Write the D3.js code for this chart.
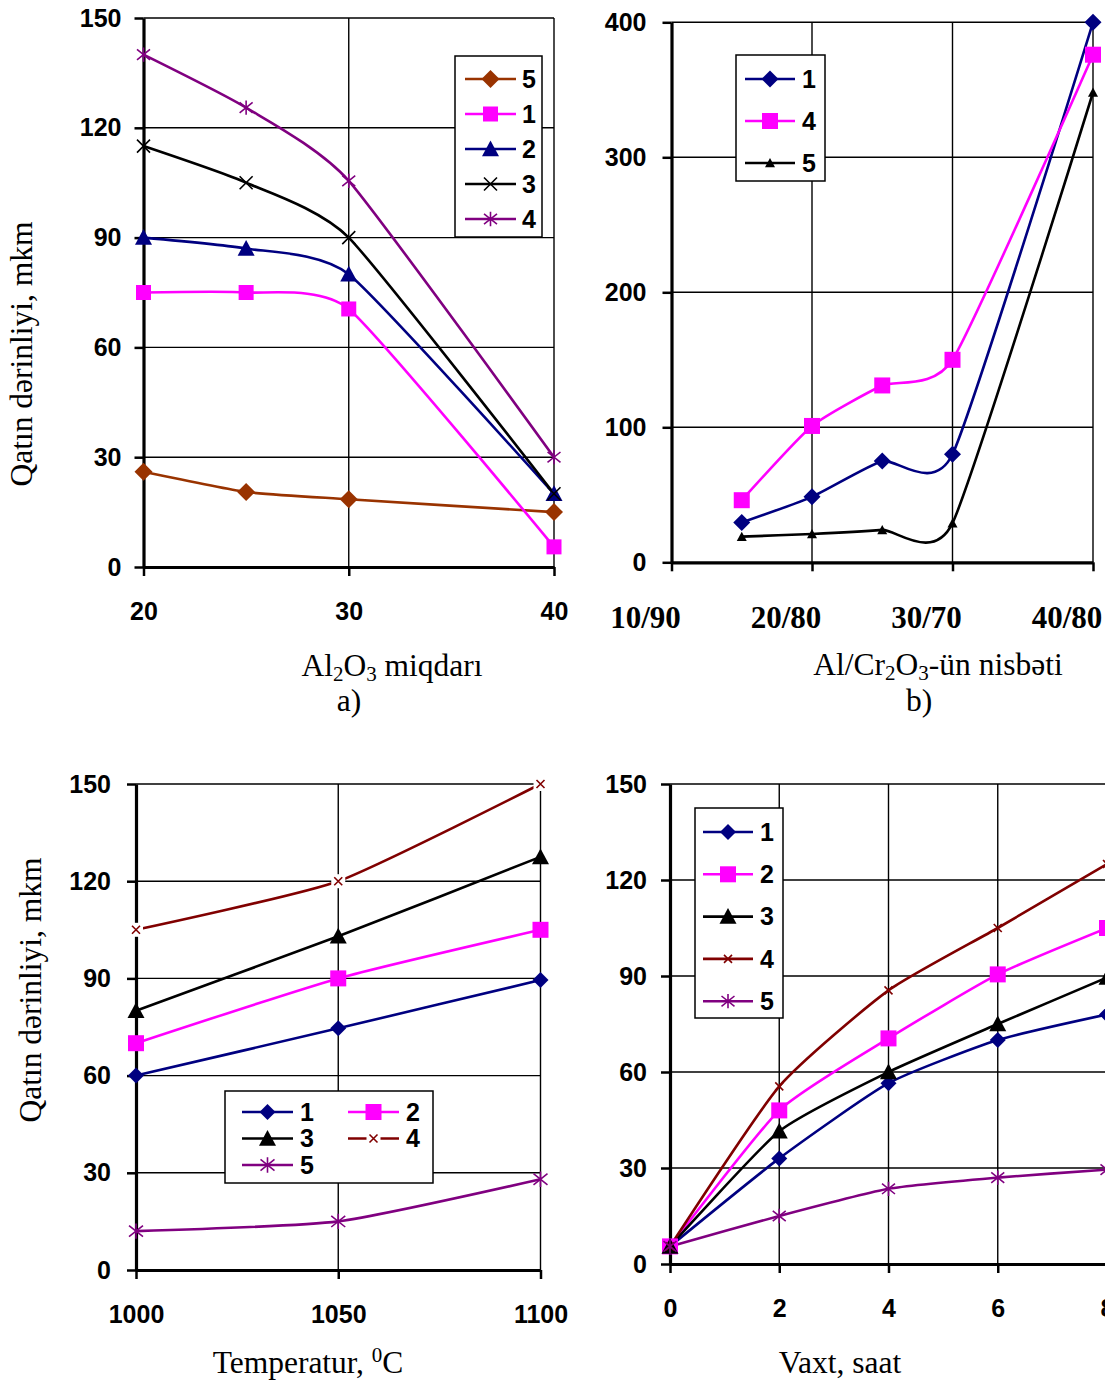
<!DOCTYPE html>
<html>
<head>
<meta charset="utf-8">
<script src="https://cdn.jsdelivr.net/npm/d3@7"></script>
<style>
  body { margin: 0; background: #fff; }
  .tick text { font-family: 'Liberation Sans', Arial, sans-serif; font-weight: bold; font-size: 25px; fill: #000; }
  .ttl { font-family: 'Liberation Serif', 'Times New Roman', serif; font-size: 31.5px; fill: #000; }
  .leg { font-family: 'Liberation Sans', Arial, sans-serif; font-weight: bold; font-size: 25px; fill: #000; }
</style>
</head>
<body>
<svg id="chart" width="1105" height="1385"></svg>
<script>
// a) Al2O3 amount
const aX = [20, 25, 30, 40];
const aDepth5 = [26, 20.5, 18.5, 15];
const aDepth1 = [75, 75, 70.5, 5.5];
const aDepth2 = [90, 87, 80, 20];
const aDepth3 = [115, 105, 90, 20];
const aDepth4 = [140, 125.5, 105.5, 30];
const aXTicks = [20, 30, 40];
const aYTicks = [0, 30, 60, 90, 120, 150];

// b) Al/Cr2O3 ratio
const bX = [15, 20, 25, 30, 40];
const bDepth1 = [29.5, 48.5, 75, 80, 400];
const bDepth4 = [46, 101, 131, 150, 376];
const bDepth5 = [19, 21, 24, 29, 348];
const bXTicks = [10, 20, 30, 40];
const bXLabels = ['10/90', '20/80', '30/70', '40/80'];
const bYTicks = [0, 100, 200, 300, 400];

// c) temperature
const cX = [1000, 1050, 1100];
const cDepth1 = [60, 74.6, 89.5];
const cDepth2 = [70, 90, 105];
const cDepth3 = [80, 103, 127.5];
const cDepth4 = [105, 120, 150];
const cDepth5 = [12, 15, 28];
const cXTicks = [1000, 1050, 1100];
const cYTicks = [0, 30, 60, 90, 120, 150];

// d) time
const dX = [0, 2, 4, 6, 8];
const dDepth1 = [5.5, 33, 56.5, 70, 78];
const dDepth2 = [5.5, 48, 70.5, 90.5, 105];
const dDepth3 = [5.5, 41.5, 60, 75, 89.5];
const dDepth4 = [5.5, 55.5, 85.5, 105, 125];
const dDepth5 = [5.5, 15, 23.5, 27, 29.5];
const dXTicks = [0, 2, 4, 6, 8];
const dYTicks = [0, 30, 60, 90, 120, 150];

const NAVY = '#000080', MAG = '#ff00ff', BROWN = '#993300', PURPLE = '#800080', MAROON = '#800000';

const svg = d3.select('#chart');

function addMarker(g, type, color, s, x, y) {
  const m = g.append('g').attr('transform', `translate(${x},${y})`);
  const h = s / 2;
  if (type === 'diamond') {
    m.append('path').attr('d', `M0,${-h}L${h},0L0,${h}L${-h},0Z`).attr('fill', color);
  } else if (type === 'square') {
    m.append('rect').attr('x', -h).attr('y', -h).attr('width', s).attr('height', s).attr('fill', color);
  } else if (type === 'triangle') {
    m.append('path').attr('d', `M0,${-h}L${h},${h * 0.85}L${-h},${h * 0.85}Z`).attr('fill', color);
  } else if (type === 'x' || type === 'xbox') {
    if (type === 'xbox') m.append('rect').attr('x', -h - 3).attr('y', -h - 3).attr('width', s + 6).attr('height', s + 6).attr('fill', '#fff');
    m.append('path').attr('d', `M${-h},${-h}L${h},${h}M${-h},${h}L${h},${-h}`)
      .attr('stroke', color).attr('stroke-width', 1.6).attr('fill', 'none');
  } else if (type === 'star') {
    m.append('path').attr('d', `M${-h},${-h * 0.8}L${h},${h * 0.8}M${-h},${h * 0.8}L${h},${-h * 0.8}M0,${-h * 1.1}L0,${h * 1.1}`)
      .attr('stroke', color).attr('stroke-width', 1.6).attr('fill', 'none');
  }
}

function drawPanel(p) {
  const x = d3.scaleLinear().domain(p.xDomain).range([p.left, p.right]);
  const y = d3.scaleLinear().domain(p.yDomain).range([p.bottom, p.top]);
  const g = svg.append('g');

  // grid
  g.append('g').selectAll('line').data(p.yTicks.filter(v => v > p.yDomain[0])).join('line')
    .attr('x1', p.left).attr('x2', p.right)
    .attr('y1', d => y(d)).attr('y2', d => y(d))
    .attr('stroke', '#000').attr('stroke-width', 1.4);
  g.append('g').selectAll('line').data(p.xTicks.filter(v => v > p.xDomain[0])).join('line')
    .attr('x1', d => x(d)).attr('x2', d => x(d))
    .attr('y1', p.top).attr('y2', p.bottom)
    .attr('stroke', '#000').attr('stroke-width', 1.4);

  // axes
  const yAxis = g.append('g').attr('transform', `translate(${p.left},0)`)
    .call(d3.axisLeft(y).tickValues(p.yTicks).tickSize(9).tickSizeOuter(0).tickPadding(p.yPad).tickFormat(d3.format('d')));
  const xAxis = g.append('g').attr('transform', `translate(0,${p.bottom})`)
    .call(d3.axisBottom(x).tickValues(p.xTicks).tickSize(9).tickSizeOuter(0).tickPadding(26)
      .tickFormat(p.xLabels ? () => '' : d3.format('d')));
  [yAxis, xAxis].forEach(a => {
    a.select('.domain').attr('stroke-width', 3.2);
    a.selectAll('.tick line').attr('stroke-width', 2.5);
  });
  if (p.xLabels) {
    g.append('g').selectAll('text').data(p.xTicks).join('text')
      .attr('x', d => x(d) - 26).attr('y', p.bottom + 66)
      .attr('text-anchor', 'middle')
      .style('font-family', "'Liberation Serif', 'Times New Roman', serif")
      .style('font-weight', 'bold').style('font-size', '31px')
      .text((d, i) => p.xLabels[i]);
  }

  // series (smoothed like the spreadsheet original)
  const line = d3.line().x(d => x(d[0])).y(d => y(d[1])).curve(d3.curveCardinal.tension(0.45));
  p.series.forEach(s => {
    const pts = s.xs.map((v, i) => [v, s.ys[i]]);
    g.append('path').attr('d', line(pts)).attr('fill', 'none')
      .attr('stroke', s.color).attr('stroke-width', 2.6);
  });
  p.series.forEach(s => {
    s.xs.forEach((v, i) => addMarker(g, s.marker, s.color, s.size, x(v), y(s.ys[i])));
  });

  // legend
  const L = p.legend;
  const lg = g.append('g').attr('transform', `translate(${L.x},${L.y})`);
  lg.append('rect').attr('width', L.w).attr('height', L.h)
    .attr('fill', '#fff').attr('stroke', '#000').attr('stroke-width', 1.5);
  L.order.forEach((idx, k) => {
    const s = p.series[idx];
    const col = L.cols ? k % L.cols : 0;
    const row = L.cols ? Math.floor(k / L.cols) : k;
    const ox = col * (L.colGap || 0);
    const oy = L.row0 + row * L.rowGap;
    lg.append('line').attr('x1', ox + L.l0).attr('x2', ox + L.l1).attr('y1', oy).attr('y2', oy)
      .attr('stroke', s.color).attr('stroke-width', 2.6);
    addMarker(lg, s.marker, s.color, s.size, ox + (L.l0 + L.l1) / 2, oy);
    lg.append('text').attr('class', 'leg').attr('x', ox + L.tx).attr('y', oy).attr('dy', '0.35em').text(s.name);
  });

  // titles
  p.titles.forEach(t => {
    const el = svg.append('text').attr('class', 'ttl').attr('text-anchor', 'middle')
      .attr('transform', `translate(${t.x},${t.y})` + (t.rot ? ' rotate(-90)' : ''));
    t.parts.forEach(pt => {
      const ts = el.append('tspan').text(pt.t);
      if (pt.sub) ts.attr('dy', 5).style('font-size', '21px');
      if (pt.sup) ts.attr('dy', -11).style('font-size', '21px');
      if (pt.back) ts.attr('dy', pt.back);
    });
  });
}

drawPanel({
  left: 143.5, right: 554, top: 18, bottom: 567, yPad: 13,
  xDomain: [20, 40], yDomain: [0, 150], xTicks: aXTicks, yTicks: aYTicks,
  series: [
    { name: '5', xs: aX, ys: aDepth5, color: BROWN, marker: 'diamond', size: 18 },
    { name: '1', xs: aX, ys: aDepth1, color: MAG, marker: 'square', size: 15 },
    { name: '2', xs: aX, ys: aDepth2, color: NAVY, marker: 'triangle', size: 17 },
    { name: '3', xs: aX, ys: aDepth3, color: '#000', marker: 'x', size: 13 },
    { name: '4', xs: aX, ys: aDepth4, color: PURPLE, marker: 'star', size: 13 }
  ],
  legend: { x: 455, y: 56, w: 87, h: 181, row0: 23, rowGap: 35, l0: 10, l1: 61, tx: 67, order: [0, 1, 2, 3, 4] },
  titles: [
    { x: 32, y: 354, rot: true, parts: [{ t: 'Qatın dərinliyi, mkm' }] },
    { x: 392, y: 676, parts: [{ t: 'Al' }, { t: '2', sub: true }, { t: 'O', back: -5 }, { t: '3', sub: true }, { t: ' miqdarı', back: -5 }] },
    { x: 349, y: 711, parts: [{ t: 'a)' }] }
  ]
});

drawPanel({
  left: 671.5, right: 1093, top: 22.3, bottom: 562.3, yPad: 16,
  xDomain: [10, 40], yDomain: [0, 400], xTicks: bXTicks, yTicks: bYTicks, xLabels: bXLabels,
  series: [
    { name: '1', xs: bX, ys: bDepth1, color: NAVY, marker: 'diamond', size: 17 },
    { name: '4', xs: bX, ys: bDepth4, color: MAG, marker: 'square', size: 16 },
    { name: '5', xs: bX, ys: bDepth5, color: '#000', marker: 'triangle', size: 10 }
  ],
  legend: { x: 736, y: 55, w: 89, h: 126, row0: 24, rowGap: 42, l0: 9, l1: 59, tx: 66, order: [0, 1, 2] },
  titles: [
    { x: 938, y: 675, parts: [{ t: 'Al/Cr' }, { t: '2', sub: true }, { t: 'O', back: -5 }, { t: '3', sub: true }, { t: '-ün nisbəti', back: -5 }] },
    { x: 919, y: 711, parts: [{ t: 'b)' }] }
  ]
});

drawPanel({
  left: 136, right: 540.5, top: 784, bottom: 1270, yPad: 16,
  xDomain: [1000, 1100], yDomain: [0, 150], xTicks: cXTicks, yTicks: cYTicks,
  series: [
    { name: '1', xs: cX, ys: cDepth1, color: NAVY, marker: 'diamond', size: 16 },
    { name: '2', xs: cX, ys: cDepth2, color: MAG, marker: 'square', size: 16 },
    { name: '3', xs: cX, ys: cDepth3, color: '#000', marker: 'triangle', size: 17 },
    { name: '4', xs: cX, ys: cDepth4, color: MAROON, marker: 'xbox', size: 8 },
    { name: '5', xs: cX, ys: cDepth5, color: PURPLE, marker: 'star', size: 14 }
  ],
  legend: { x: 225, y: 1091, w: 208, h: 92, row0: 21, rowGap: 26.5, cols: 2, colGap: 106, l0: 17, l1: 68, tx: 75, order: [0, 1, 2, 3, 4] },
  titles: [
    { x: 41, y: 990, rot: true, parts: [{ t: 'Qatın dərinliyi, mkm' }] },
    { x: 308, y: 1373, parts: [{ t: 'Temperatur, ' }, { t: '0', sup: true }, { t: 'C', back: 11 }] }
  ]
});

drawPanel({
  left: 670, right: 1107, top: 784, bottom: 1264, yPad: 14,
  xDomain: [0, 8], yDomain: [0, 150], xTicks: dXTicks, yTicks: dYTicks,
  series: [
    { name: '1', xs: dX, ys: dDepth1, color: NAVY, marker: 'diamond', size: 16 },
    { name: '2', xs: dX, ys: dDepth2, color: MAG, marker: 'square', size: 16 },
    { name: '3', xs: dX, ys: dDepth3, color: '#000', marker: 'triangle', size: 17 },
    { name: '4', xs: dX, ys: dDepth4, color: MAROON, marker: 'x', size: 8 },
    { name: '5', xs: dX, ys: dDepth5, color: PURPLE, marker: 'star', size: 13 }
  ],
  legend: { x: 695, y: 808, w: 88, h: 210, row0: 24, rowGap: 42.3, l0: 8, l1: 58, tx: 65, order: [0, 1, 2, 3, 4] },
  titles: [
    { x: 840, y: 1373, parts: [{ t: 'Vaxt, saat' }] }
  ]
});
</script>
</body>
</html>
